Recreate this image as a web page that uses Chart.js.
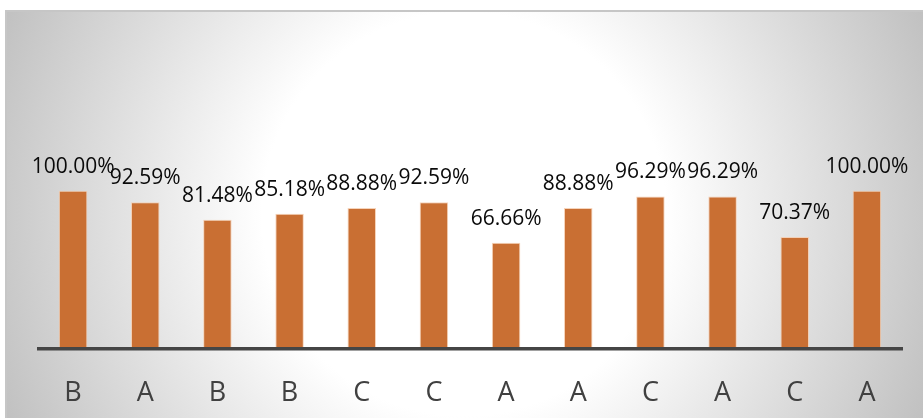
<!DOCTYPE html>
<html>
<head>
<meta charset="utf-8">
<script src="https://cdn.jsdelivr.net/npm/chart.js@4"></script>
<style>
  html, body { margin: 0; padding: 0; background: #fff; }
  #wrap { width: 923px; height: 418px; position: relative; }
</style>
</head>
<body>
<div id="wrap"><canvas id="scoreChart" width="923" height="418"></canvas></div>
<script>
// categories + scores (%)
const groups = ['B', 'A', 'B', 'B', 'C', 'C', 'A', 'A', 'C', 'A', 'C', 'A'];
const scores = [100.00, 92.59, 81.48, 85.18, 88.88, 92.59, 66.66, 88.88, 96.29, 96.29, 70.37, 100.00];

// panel fill: soft radial light in the middle, grey towards the edges
const panelPlugin = {
  id: 'panel',
  beforeDraw(chart) {
    const { ctx, width, height } = chart;
    ctx.save();
    ctx.fillStyle = '#ffffff';
    ctx.fillRect(0, 0, width, height);
    const g = ctx.createRadialGradient(464, 214, 0, 464, 214, 505);
    g.addColorStop(0, '#ffffff');
    g.addColorStop(0.4, '#ffffff');
    g.addColorStop(1, '#c0c0c0');
    ctx.fillStyle = g;
    ctx.fillRect(6, 10, width - 6, height - 10);
    ctx.fillStyle = '#c6c6c6';
    ctx.fillRect(6, 10, width - 6, 2);
    ctx.fillRect(5, 10, 2, height - 10);
    ctx.restore();
  },
};

// baseline under the bars + value labels above them
const labelPlugin = {
  id: 'valueLabels',
  afterDatasetsDraw(chart) {
    const { ctx, chartArea, scales } = chart;
    const y0 = scales.y.getPixelForValue(0);
    ctx.save();
    ctx.fillStyle = '#454545';
    ctx.fillRect(chartArea.left, y0, chartArea.right - chartArea.left, 3.5);

    ctx.font = '21px "Open Sans"';
    ctx.fillStyle = '#0a0a0a';
    ctx.textAlign = 'center';
    ctx.textBaseline = 'alphabetic';
    chart.getDatasetMeta(0).data.forEach((bar, i) => {
      ctx.fillText(scores[i].toFixed(2) + '%', bar.x, bar.y - 18);
    });
    ctx.restore();
  },
};

new Chart(document.getElementById('scoreChart').getContext('2d'), {
  type: 'bar',
  data: {
    labels: groups,
    datasets: [{
      data: scores,
      backgroundColor: '#c96f33',
      borderColor: 'rgba(245, 205, 175, 0.85)',
      borderWidth: 1,
      borderSkipped: 'bottom',
      categoryPercentage: 1,
      barPercentage: 0.395,
    }],
  },
  options: {
    responsive: false,
    animation: false,
    layout: { padding: { left: 37, right: 20, top: 34.4, bottom: 0 } },
    scales: {
      x: {
        grid: { display: false, drawTicks: false },
        border: { display: false },
        ticks: { color: '#404040', font: { family: 'Open Sans', size: 27 }, padding: 30 },
        afterFit(scale) { scale.height = 71; },
      },
      y: { display: false, min: 0, max: 200 },
    },
    plugins: { legend: { display: false }, tooltip: { enabled: false } },
  },
  plugins: [panelPlugin, labelPlugin],
});
</script>
</body>
</html>
